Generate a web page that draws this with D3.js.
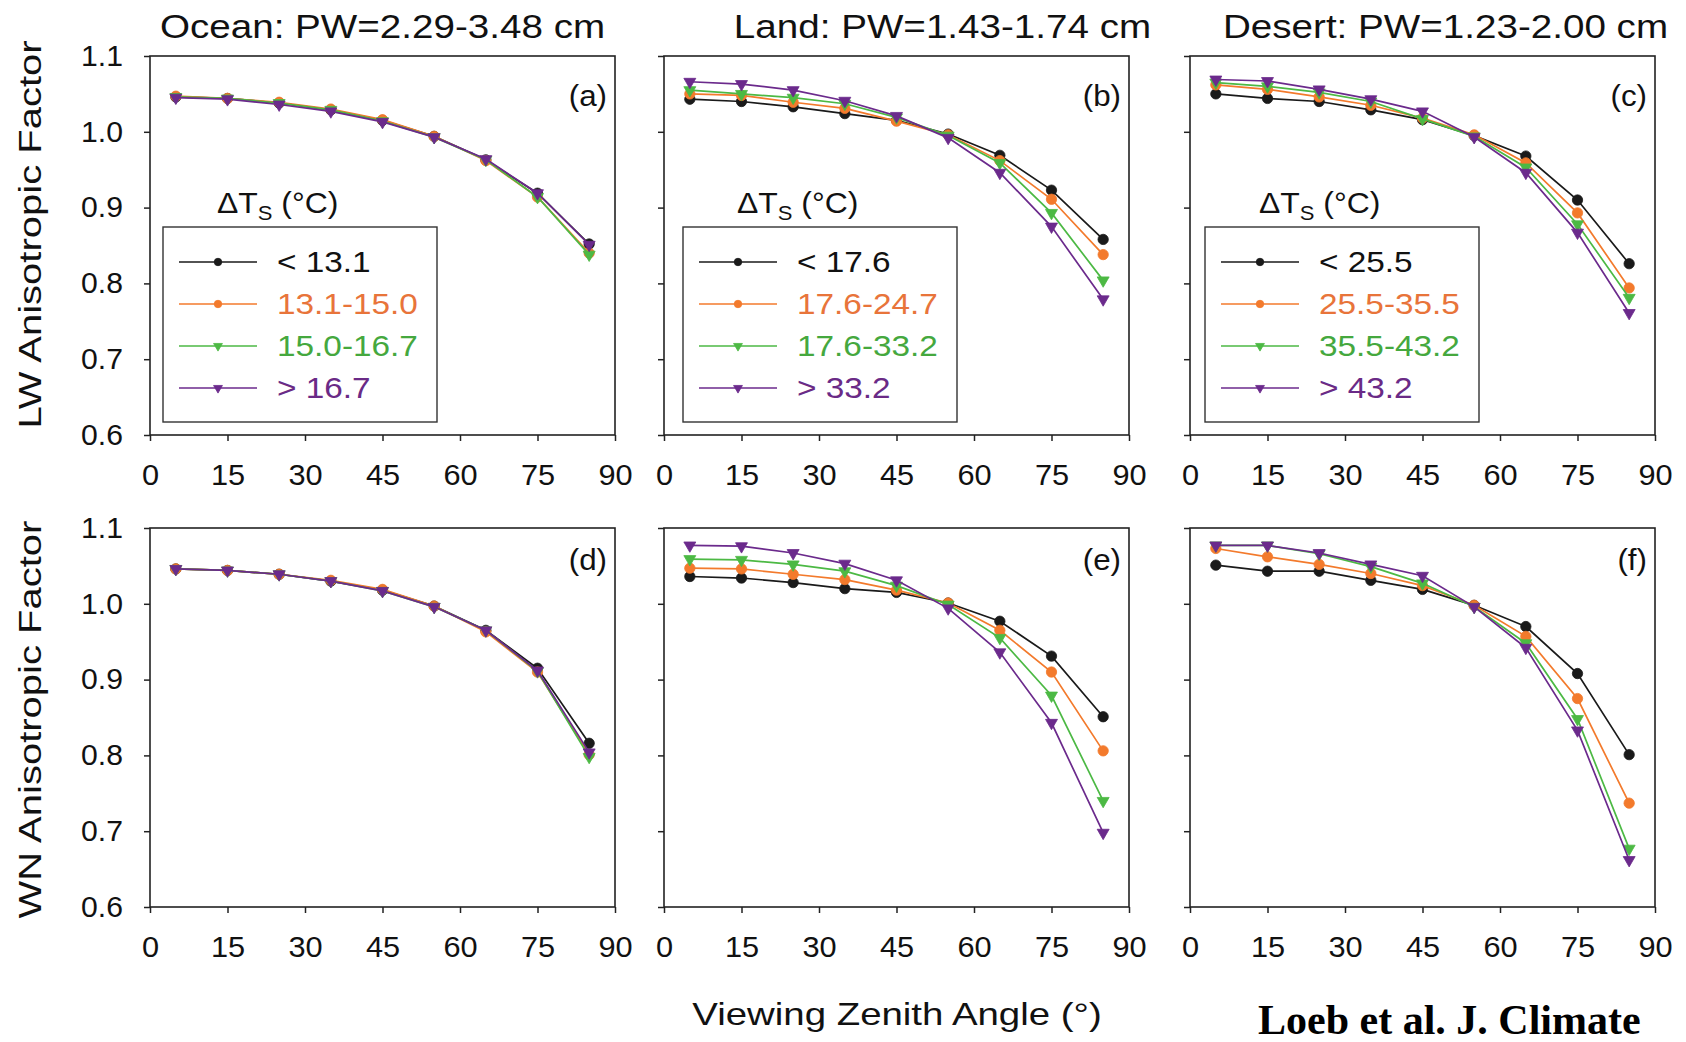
<!DOCTYPE html>
<html>
<head>
<meta charset="utf-8">
<script src="https://cdn.jsdelivr.net/npm/d3@7"></script>
<style>
	body { margin: 0; background: #fff; }
</style>
</head>
<body>
<div class="canvas"></div>
<script>
// viewing zenith angle bins and axis ticks
const angles = [5, 15, 25, 35, 45, 55, 65, 75, 85];
const xTicks = [0, 15, 30, 45, 60, 75, 90];
const yTicks = [0.6, 0.7, 0.8, 0.9, 1.0, 1.1];

const panelTitles = ['Ocean: PW=2.29-3.48 cm', 'Land: PW=1.43-1.74 cm', 'Desert: PW=1.23-2.00 cm'];
const rowTitles = ['LW Anisotropic Factor', 'WN Anisotropic Factor'];
const panelTags = ['(a)', '(b)', '(c)', '(d)', '(e)', '(f)'];

// delta Ts classes (legend labels)
const oceanClasses = ['< 13.1', '13.1-15.0', '15.0-16.7', '> 16.7'];
const landClasses = ['< 17.6', '17.6-24.7', '17.6-33.2', '> 33.2'];
const desertClasses = ['< 25.5', '25.5-35.5', '35.5-43.2', '> 43.2'];

// anisotropic factors, one row per class (black, orange, green, purple)
const lwOcean = [
	[1.046, 1.044, 1.038, 1.029, 1.015, 0.994, 0.963, 0.919, 0.852],
	[1.047, 1.044, 1.039, 1.030, 1.016, 0.994, 0.962, 0.914, 0.840],
	[1.046, 1.044, 1.038, 1.029, 1.014, 0.993, 0.963, 0.914, 0.838],
	[1.045, 1.043, 1.036, 1.027, 1.013, 0.993, 0.964, 0.919, 0.851]
];
const lwLand = [
	[1.043, 1.040, 1.033, 1.024, 1.015, 0.997, 0.969, 0.923, 0.858],
	[1.050, 1.048, 1.039, 1.031, 1.014, 0.996, 0.962, 0.911, 0.838],
	[1.055, 1.050, 1.045, 1.037, 1.019, 0.995, 0.959, 0.893, 0.804],
	[1.066, 1.063, 1.055, 1.041, 1.021, 0.992, 0.946, 0.875, 0.779]
];
const lwDesert = [
	[1.050, 1.044, 1.040, 1.029, 1.016, 0.995, 0.968, 0.910, 0.826],
	[1.062, 1.056, 1.046, 1.035, 1.018, 0.996, 0.959, 0.893, 0.794],
	[1.065, 1.060, 1.052, 1.040, 1.017, 0.994, 0.953, 0.878, 0.781],
	[1.069, 1.067, 1.056, 1.043, 1.027, 0.993, 0.946, 0.867, 0.761]
];
const wnOcean = [
	[1.046, 1.044, 1.039, 1.030, 1.018, 0.997, 0.965, 0.915, 0.816],
	[1.046, 1.044, 1.039, 1.031, 1.019, 0.997, 0.963, 0.910, 0.801],
	[1.046, 1.044, 1.039, 1.030, 1.017, 0.996, 0.965, 0.911, 0.798],
	[1.046, 1.044, 1.039, 1.030, 1.017, 0.996, 0.965, 0.912, 0.804]
];
const wnLand = [
	[1.036, 1.034, 1.028, 1.020, 1.015, 1.001, 0.977, 0.931, 0.851],
	[1.047, 1.046, 1.039, 1.032, 1.018, 1.001, 0.965, 0.910, 0.806],
	[1.059, 1.058, 1.052, 1.043, 1.024, 0.999, 0.955, 0.879, 0.740],
	[1.077, 1.076, 1.067, 1.053, 1.031, 0.994, 0.936, 0.843, 0.698]
];
const wnDesert = [
	[1.051, 1.043, 1.043, 1.031, 1.019, 0.998, 0.970, 0.908, 0.801],
	[1.073, 1.062, 1.052, 1.040, 1.024, 0.998, 0.957, 0.875, 0.737],
	[1.077, 1.077, 1.066, 1.049, 1.027, 0.996, 0.948, 0.848, 0.677],
	[1.077, 1.077, 1.067, 1.052, 1.037, 0.996, 0.942, 0.833, 0.662]
];

const lineColors = ['#1a1a1a', '#f37a2c', '#4cb944', '#6b2a8c'];
const labelColors = ['#111111', '#e8743a', '#45a83e', '#6a2a86'];
const markerShapes = ['circle', 'circle', 'triangle', 'triangle'];

const panels = [
	{series: lwOcean, classes: oceanClasses},
	{series: lwLand, classes: landClasses},
	{series: lwDesert, classes: desertClasses},
	{series: wnOcean},
	{series: wnLand},
	{series: wnDesert}
];

// layout
const colLeft = [150, 664, 1190];
const rowTop = [56, 528];
const panelW = 465;
const panelH = 379;
const titleShift = [0, 46, 23];
const legendLeft = [13, 19, 15];
const tagDown = [50, 42];
const rowTitleShift = [-11, 2];

const sans = "'Liberation Sans', Arial, sans-serif";

const svg = d3.select('.canvas').append('svg')
	.attr('width', 1686)
	.attr('height', 1042)
	.attr('font-family', sans);

// stretched text helper (the original lettering is wider than Arial)
function label(parent, x, y, str, size, sx, anchor) {
	return parent.append('text')
		.attr('transform', `translate(${x}, ${y}) scale(${sx}, 1)`)
		.attr('text-anchor', anchor || 'middle')
		.attr('font-size', size)
		.attr('fill', '#111')
		.text(str);
}

const x = d3.scaleLinear().domain([0, 90]).range([0, panelW]);
const y = d3.scaleLinear().domain([0.6, 1.1]).range([panelH, 0]);

const line = d3.line()
	.x((d, i) => x(angles[i]))
	.y(d => y(d));

const circle = d3.symbol(d3.symbolCircle, 84);
const triangle = d3.symbol(d3.symbolTriangle, 62);
const circleSmall = d3.symbol(d3.symbolCircle, 44);
const triangleSmall = d3.symbol(d3.symbolTriangle, 34);

function marker(g, k, px, py, small) {
	const isTri = markerShapes[k] === 'triangle';
	const gen = isTri ? (small ? triangleSmall : triangle) : (small ? circleSmall : circle);
	g.append('path')
		.attr('d', gen())
		.attr('transform', `translate(${px}, ${py})` + (isTri ? ' rotate(180)' : ''))
		.attr('fill', lineColors[k])
		.attr('stroke', lineColors[k])
		.attr('stroke-width', 0.8);
}

panels.forEach((p, idx) => {
	const col = idx % 3;
	const row = Math.floor(idx / 3);
	const graph = svg.append('g')
		.attr('transform', `translate(${colLeft[col]}, ${rowTop[row]})`);

	// axes
	const xAxis = d3.axisBottom(x)
		.tickValues(xTicks)
		.tickSize(6)
		.tickSizeOuter(0)
		.tickPadding(23);
	const yAxis = d3.axisLeft(y)
		.tickValues(yTicks)
		.tickSize(6)
		.tickSizeOuter(0)
		.tickPadding(20)
		.tickFormat(col === 0 ? d3.format('.1f') : '');

	const xg = graph.append('g')
		.attr('transform', `translate(0, ${panelH})`)
		.call(xAxis);
	const yg = graph.append('g').call(yAxis);

	[xg, yg].forEach(ax => {
		ax.attr('font-family', null).attr('font-size', null);
		ax.select('.domain').remove();
		ax.selectAll('line').attr('stroke', '#222').attr('stroke-width', 1.5);
		ax.selectAll('text').attr('fill', '#111').attr('font-size', 29);
	});
	xg.selectAll('text').attr('transform', 'scale(1.06, 1)');
	yg.selectAll('text').attr('transform', 'scale(1.04, 1)');

	// frame
	graph.append('rect')
		.attr('width', panelW)
		.attr('height', panelH)
		.attr('fill', 'none')
		.attr('stroke', '#222')
		.attr('stroke-width', 1.6);

	// data
	p.series.forEach((vals, k) => {
		graph.append('path')
			.datum(vals)
			.attr('d', line)
			.attr('fill', 'none')
			.attr('stroke', lineColors[k])
			.attr('stroke-width', 1.7);
		vals.forEach((v, i) => marker(graph, k, x(angles[i]), y(v), false));
	});

	label(graph, panelW - 8, tagDown[row], panelTags[idx], 29, 1.08, 'end');

	if (row === 0) {
		label(svg, colLeft[col] + panelW / 2 + titleShift[col], 38, panelTitles[col], 33, 1.17);

		// legend
		const lg = graph.append('g')
			.attr('transform', `translate(${legendLeft[col]}, 171)`);
		lg.append('rect')
			.attr('width', 274)
			.attr('height', 195)
			.attr('fill', '#fff')
			.attr('stroke', '#333')
			.attr('stroke-width', 1.4);
		const head = lg.append('text')
			.attr('transform', 'translate(54, -14) scale(1.1, 1)')
			.attr('font-size', 29)
			.attr('fill', '#111');
		head.append('tspan').text('\u0394T');
		head.append('tspan').attr('font-size', 20).attr('dy', 7).text('S');
		head.append('tspan').attr('dy', -7).text(' (\u00b0C)');

		p.classes.forEach((c, k) => {
			const ly = 35 + k * 42;
			lg.append('line')
				.attr('x1', 16).attr('x2', 94)
				.attr('y1', ly).attr('y2', ly)
				.attr('stroke', lineColors[k])
				.attr('stroke-width', 1.6);
			marker(lg, k, 55, ly, true);
			label(lg, 114, ly + 10, c, 29, 1.15, 'start')
				.attr('fill', labelColors[k]);
		});
	}

	if (col === 0) {
		const cy = rowTop[row] + panelH / 2 + rowTitleShift[row];
		svg.append('text')
			.attr('transform', `translate(41, ${cy}) rotate(-90) scale(1.25, 1)`)
			.attr('text-anchor', 'middle')
			.attr('font-size', 32)
			.attr('fill', '#111')
			.text(rowTitles[row]);
	}
});

label(svg, 897, 1025, 'Viewing Zenith Angle (\u00b0)', 32, 1.2);

svg.append('text')
	.attr('x', 1258)
	.attr('y', 1034)
	.attr('font-family', "'Liberation Serif', 'Times New Roman', serif")
	.attr('font-weight', 'bold')
	.attr('font-size', 42)
	.attr('fill', '#000')
	.text('Loeb et al. J. Climate');
</script>
</body>
</html>
